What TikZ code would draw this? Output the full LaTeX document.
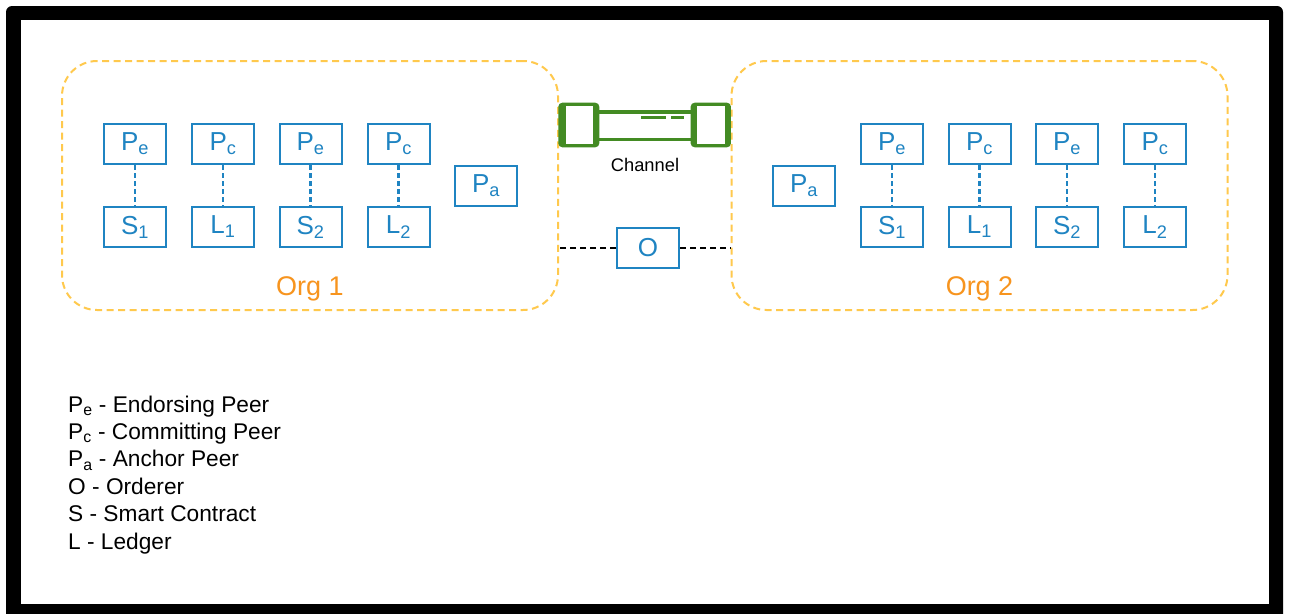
\documentclass[tikz,border=0pt]{standalone}
\usepackage{fontspec}
\setmainfont{Liberation Sans}
\usepackage{tikz}

\definecolor{peerblue}{HTML}{1F84C2}
\definecolor{orgyellow}{HTML}{FFC94D}
\definecolor{orgorange}{HTML}{F7941E}
\definecolor{channelgreen}{HTML}{438B23}

\tikzset{
    peer/.style={draw=peerblue, line width=2pt, fill=white, text=peerblue, minimum width=62pt, minimum height=40pt, inner sep=0pt, font=\fontsize{26}{30}\selectfont},
    org/.style={draw=orgyellow, line width=2pt, dash pattern=on 7pt off 4.5pt, rounded corners=35pt, minimum width=496pt, minimum height=249pt},
    orglabel/.style={text=orgorange, font=\fontsize{27}{30}\selectfont},
    link/.style={draw=peerblue, line width=2.2pt, dash pattern=on 5pt off 3pt},
    ordererlink/.style={draw=black, line width=1.8pt, dash pattern=on 6pt off 4pt},
    channelcap/.style={fill=channelgreen, rounded corners=4pt, minimum height=44.6pt, inner sep=0pt},
    channelhole/.style={fill=white, minimum height=38pt, inner sep=0pt},
}

\begin{document}
\begin{tikzpicture}[x=1pt, y=-1pt]
        \useasboundingbox (0, 0) rectangle (1289, 613);
        \fill [black, rounded corners=6pt] (6, 6) rectangle (1283, 630);
        \fill [white] (21, 20) rectangle (1269, 604);

        \node [org] (org1) at (310, 185.5) {};
        \node [org] (org2) at (979.5, 185.5) {};
        \node [orglabel] (org1label) at (310, 288.5) {Org 1};
        \node [orglabel] (org2label) at (979.5, 288.5) {Org 2};

        % first organisation
        \node [peer] (pe1) at (135, 144) {P\textsubscript{e}};
        \node [peer] (pc1) at (223, 144) {P\textsubscript{c}};
        \node [peer] (pe2) at (310.5, 144) {P\textsubscript{e}};
        \node [peer] (pc2) at (398.5, 144) {P\textsubscript{c}};
        \node [peer] (s1) at (135, 227) {S\textsubscript{1}};
        \node [peer] (l1) at (223, 227) {L\textsubscript{1}};
        \node [peer] (s2) at (310.5, 227) {S\textsubscript{2}};
        \node [peer] (l2) at (398.5, 227) {L\textsubscript{2}};
        \node [peer] (pa) at (486, 186) {P\textsubscript{a}};
        \draw [link] (pe1) -- (s1);
        \draw [link] (pc1) -- (l1);
        \draw [link] (pe2) -- (s2);
        \draw [link] (pc2) -- (l2);

        % second organisation
        \node [peer] (qe1) at (892, 144) {P\textsubscript{e}};
        \node [peer] (qc1) at (979.5, 144) {P\textsubscript{c}};
        \node [peer] (qe2) at (1067, 144) {P\textsubscript{e}};
        \node [peer] (qc2) at (1155, 144) {P\textsubscript{c}};
        \node [peer] (t1) at (892, 227) {S\textsubscript{1}};
        \node [peer] (m1) at (979.5, 227) {L\textsubscript{1}};
        \node [peer] (t2) at (1067, 227) {S\textsubscript{2}};
        \node [peer] (m2) at (1155, 227) {L\textsubscript{2}};
        \node [peer] (qa) at (804, 186) {P\textsubscript{a}};
        \draw [link] (qe1) -- (t1);
        \draw [link] (qc1) -- (m1);
        \draw [link] (qe2) -- (t2);
        \draw [link] (qc2) -- (m2);

        % orderer
        \node [peer] (O) at (648, 248) {O};
        \draw [ordererlink] (O) -- (org1.east |- O);
        \draw [ordererlink] (O) -- (org2.west |- O);

        % channel
        \node [draw=channelgreen, line width=3.5pt, minimum width=100pt, minimum height=27.5pt, inner sep=0pt] (tube) at (644.5, 125.5) {};
        \node [channelcap, minimum width=41pt] (capL) at (578.8, 125) {};
        \node [channelcap, minimum width=40.3pt] (capR) at (710.8, 125) {};
        \node [channelhole, minimum width=27pt] (holeL) at (579.3, 125) {};
        \node [channelhole, minimum width=27.7pt] (holeR) at (711.2, 125) {};
        \coordinate (dashA) at (641, 117.3);
        \coordinate (dashB) at (666, 117.3);
        \coordinate (dashC) at (671, 117.3);
        \coordinate (dashD) at (684, 117.3);
        \draw [channelgreen, line width=3.5pt] (dashA) -- (dashB);
        \draw [channelgreen, line width=3.5pt] (dashC) -- (dashD);
        \node [font=\fontsize{18.3}{20}\selectfont] (channel) at (645, 165) {Channel};

        % legend
        \node [anchor=north west, inner sep=0pt, align=left, font=\fontsize{22.7}{27.4}\selectfont] (legend) at (68, 395.5) {P\textsubscript{e} - Endorsing Peer\\P\textsubscript{c} - Committing Peer\\P\textsubscript{a} - Anchor Peer\\O - Orderer\\S - Smart Contract\\L - Ledger};
    \end{tikzpicture}
\end{document}
